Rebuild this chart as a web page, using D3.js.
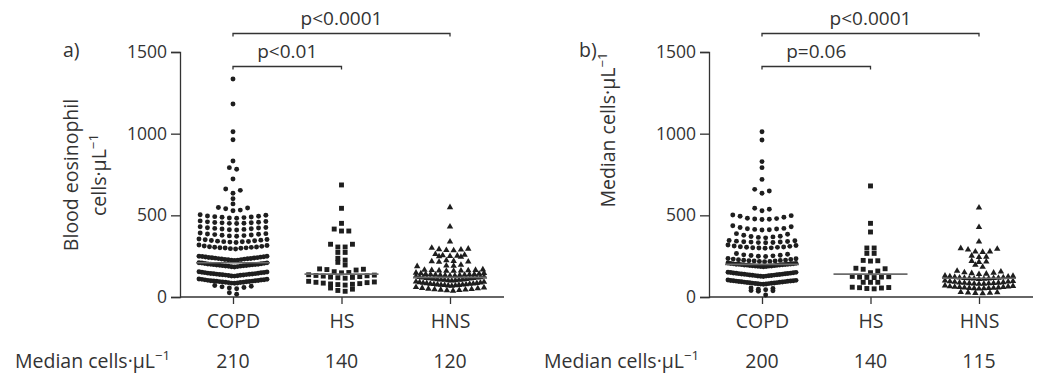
<!DOCTYPE html>
<html>
<head>
<meta charset="utf-8">
<script src="https://cdn.jsdelivr.net/npm/d3@7"></script>
<style>
  body { margin: 0; background: #fff; }
  text { font-family: "Open Sans", "Liberation Sans", Arial, sans-serif; fill: #333; }
</style>
</head>
<body>
<svg id="chart" width="1038" height="375"></svg>
<script>
// categories and tick labels
const categories = ['COPD', 'HS', 'HNS'];
const yTicks = [0, 500, 1000, 1500];

// panel a: blood eosinophil counts (cells/uL)
const copdA = [17, 26,
  50, 55, 58, 62, 66, 70,
  84, 85, 86, 88, 89, 90, 90, 92, 93, 94, 95, 96, 97, 98, 100, 100, 101, 102, 104, 105, 106, 108, 109, 110,
  128, 129, 130, 132, 133, 134, 135, 136, 137, 138, 139, 140, 141, 142, 143, 144, 145, 146, 148, 149, 150, 152, 153, 155,
  184, 185, 186, 188, 189, 190, 191, 192, 193, 194, 195, 196, 197, 198, 199, 200, 201, 202, 204, 205, 206, 208, 209, 210,
  224, 225, 226, 228, 229, 230, 232, 233, 234, 235, 236, 238, 239, 240, 241, 242, 244, 245, 246, 248, 249, 250,
  294, 296, 298, 300, 301, 302, 304, 305, 306, 308, 310, 312, 315, 318,
  334, 336, 338, 339, 340, 342, 344, 346, 348, 350, 352, 355,
  372, 374, 376, 378, 380, 382, 384, 386, 388, 392,
  410, 412, 414, 416, 418, 420, 422, 424, 426, 430,
  450, 451, 452, 454, 455, 456, 458, 460, 462, 466,
  482, 484, 486, 488, 490, 492, 494, 496, 500, 504,
  528, 532, 540, 545, 548,
  570, 602, 635, 653, 661, 722, 782, 792, 833, 963, 1012, 1182, 1335];
const hsA = [35, 40, 48, 55,
  73, 76, 78, 80, 82, 85, 88, 90, 92, 96,
  115, 118, 120, 122, 125, 128, 130, 132, 134, 136,
  148, 150, 155, 165, 168, 170, 172,
  196, 212, 226, 237, 273, 273,
  306, 306, 323, 323,
  404, 404, 416, 451, 543, 686];
const hnsA = [38, 40, 42, 44, 45, 46, 48, 50, 52, 55, 58, 60,
  68, 70, 71, 72, 73, 74, 75, 76, 77, 78, 80, 81, 82, 84, 85, 86, 88, 90, 92, 94,
  100, 101, 102, 104, 105, 106, 107, 108, 110, 111, 112, 114, 115, 116, 118, 119, 120, 122, 124, 126,
  130, 131, 132, 133, 134, 135, 136, 137, 138, 139, 140, 142, 144, 146, 148,
  160, 160, 161, 162, 163, 164, 165, 166, 168,
  188, 190, 192, 196,
  215, 216, 218, 220, 224,
  245, 248, 250, 252, 255, 258, 262,
  285, 287, 290, 292, 295, 300,
  339, 431, 549];

// panel b: median cells/uL per subject
const copdB = [12,
  35, 38, 40, 44, 48, 52, 55,
  78, 79, 80, 81, 82, 83, 84, 85, 86, 87, 88, 89, 90, 91, 92, 93, 94, 95, 96, 97, 98, 99, 100, 101, 102, 104,
  126, 127, 128, 129, 130, 131, 132, 133, 134, 135, 136, 137, 138, 139, 140, 141, 142, 143, 144, 145, 146, 147, 148, 150, 151, 152,
  185, 186, 187, 188, 189, 190, 190, 191, 192, 193, 194, 195, 196, 196, 197, 198, 199, 200, 200, 201, 202, 203, 204, 205, 206, 208,
  216, 217, 218, 220, 221, 222, 224, 225, 226, 228, 230, 232, 234, 236,
  248, 250, 252, 254, 256, 258, 262, 266,
  298, 300, 301, 302, 304, 305, 306, 308, 310, 312, 315, 318,
  332, 333, 334, 336, 337, 338, 340, 342, 344, 346,
  362, 365, 368, 370, 372, 378, 384, 388,
  410, 412, 414, 416, 418, 420, 425, 430, 436,
  474, 476, 478, 480, 482, 488, 494, 498, 502,
  528, 537, 543,
  635, 649, 659, 720, 792, 829, 961, 1012];
const hsB = [50, 52, 55, 57, 58, 60,
  90, 90, 90,
  119, 120, 122, 122, 124, 126,
  149, 159, 170, 173, 176,
  220, 222, 224,
  267, 267, 300, 300,
  398, 451, 680];
const hnsB = [22, 24, 25, 27, 28, 30,
  51, 52, 53, 54, 55, 56, 57, 58, 60, 61, 62, 64, 65, 67, 70,
  80, 81, 82, 83, 84, 85, 86, 87, 88, 90, 92, 94, 95, 97, 100,
  110, 111, 112, 113, 114, 115, 116, 117, 118, 120, 122, 124, 126, 128, 130,
  140, 142, 145, 148, 150, 155, 160,
  184, 196,
  214, 216, 220,
  244, 246, 252,
  275, 277, 278, 290, 294, 298,
  339, 427, 547];

const mediansA = [210, 140, 120];
const mediansB = [200, 140, 115];
const pLabelsA = ['p<0.01', 'p<0.0001'];
const pLabelsB = ['p=0.06', 'p<0.0001'];

const FONT = '"Open Sans", "Liberation Sans", Arial, sans-serif';
const svg = d3.select('#chart');
const y = d3.scaleLinear().domain([0, 1500]).range([297, 52]);
const x = d3.scalePoint().domain(categories).range([233, 450]);

const symbols = [d3.symbolCircle, d3.symbolSquare, d3.symbolTriangle];
const symbolSizes = [19, 24, 18];

// Prism-like column scatter: group close values into rows, spread each row centre-out
function layout(values, cx) {
  const sorted = values.slice().sort((a, b) => a - b);
  const rows = [];
  let cur = null;
  sorted.forEach(v => {
    if (!cur || v - cur.start > 28) {
      cur = { start: v, vals: [] };
      rows.push(cur);
    }
    cur.vals.push(v);
  });
  const pts = [];
  rows.forEach(r => {
    const n = r.vals.length;
    const s = n > 1 ? Math.min(7.3, 68 / (n - 1)) : 0;
    r.vals.forEach((v, i) => {
      let k;
      if (n % 2) k = i === 0 ? 0 : Math.ceil(i / 2) * (i % 2 ? 1 : -1);
      else k = (Math.floor(i / 2) + 0.5) * (i % 2 ? -1 : 1);
      pts.push({ v, x: cx + k * s, y: y(v) });
    });
  });
  return pts;
}

// text with a "-1" superscript after a trailing "µL"
function writeUnit(sel, line) {
  if (line.endsWith('\u00b5L')) {
    sel.append('tspan').text(line);
    sel.append('tspan').attr('font-size', '0.68em').attr('dy', '-0.6em').text('\u22121');
  } else {
    sel.text(line);
  }
}

function drawPanel(dx, groups, medians, pLabels, letter, letterX, titleLines, titleX, titleY) {
  const g = svg.append('g').attr('transform', `translate(${dx},0)`);

  // y axis
  const yAxis = g.append('g')
    .attr('transform', 'translate(180,0)')
    .call(d3.axisLeft(y).tickValues(yTicks).tickSize(9).tickPadding(4).tickFormat(d3.format('d')));
  yAxis.select('.domain').attr('stroke', '#333').attr('stroke-width', 1.3);
  yAxis.selectAll('.tick line').attr('stroke', '#333').attr('stroke-width', 1.3);
  yAxis.selectAll('.tick text').attr('font-size', 17.5).attr('font-family', FONT).attr('fill', '#333');

  // x axis
  const xAxis = g.append('g')
    .attr('transform', 'translate(0,297)')
    .call(d3.axisBottom(x).tickSize(7).tickPadding(10));
  xAxis.select('.domain').attr('d', 'M180,0H504').attr('stroke', '#333').attr('stroke-width', 1.3);
  xAxis.selectAll('.tick line').attr('stroke', '#333').attr('stroke-width', 1.3);
  xAxis.selectAll('.tick text').attr('font-size', 19.5).attr('font-family', FONT).attr('fill', '#333').attr('dy', '0.71em');

  // points
  groups.forEach((vals, gi) => {
    const pts = layout(vals, x(categories[gi]));
    g.append('g').selectAll('path')
      .data(pts)
      .join('path')
      .attr('transform', d => `translate(${d.x},${d.y})`)
      .attr('d', d3.symbol().type(symbols[gi]).size(symbolSizes[gi]))
      .attr('fill', '#1e1e1e');
  });

  // median lines
  g.append('g').selectAll('line')
    .data(medians)
    .join('line')
    .attr('x1', (d, i) => x(categories[i]) - 37)
    .attr('x2', (d, i) => x(categories[i]) + 37)
    .attr('y1', d => y(d))
    .attr('y2', d => y(d))
    .attr('stroke', '#6b6b6b')
    .attr('stroke-width', 1.6);

  // significance brackets
  const brackets = [
    { from: 0, to: 1, yy: 66.5, label: pLabels[0] },
    { from: 0, to: 2, yy: 33.5, label: pLabels[1] }
  ];
  brackets.forEach(b => {
    const x1 = x(categories[b.from]), x2 = x(categories[b.to]);
    g.append('path')
      .attr('d', `M${x1},${b.yy + 3}V${b.yy}H${x2}V${b.yy + 3}`)
      .attr('fill', 'none').attr('stroke', '#333').attr('stroke-width', 1.3);
    g.append('text')
      .attr('x', (x1 + x2) / 2).attr('y', b.yy - 9)
      .attr('text-anchor', 'middle').attr('font-size', 19)
      .text(b.label);
  });

  // panel letter
  g.append('text').attr('x', letterX).attr('y', 57).attr('font-size', 19.5).text(letter);

  // y title
  const tt = g.append('text')
    .attr('transform', `translate(${titleX},${titleY}) rotate(-90)`)
    .attr('text-anchor', 'middle').attr('font-size', 19.5);
  titleLines.forEach((line, i) => {
    const t = tt.append('tspan').attr('x', 0).attr('y', i * 28);
    writeUnit(t, line);
  });

  // median row
  const mr = g.append('text').attr('x', 15).attr('y', 368).attr('font-size', 19.5);
  writeUnit(mr, 'Median cells\u00b7\u00b5L');
  g.append('g').selectAll('text')
    .data(medians)
    .join('text')
    .attr('x', (d, i) => x(categories[i]))
    .attr('y', 368)
    .attr('text-anchor', 'middle')
    .attr('font-size', 19.5)
    .text(d => d);
}

drawPanel(0, [copdA, hsA, hnsA], mediansA, pLabelsA, 'a)', 63, ['Blood eosinophil', 'cells\u00b7\u00b5L'], 78, 175);
drawPanel(529, [copdB, hsB, hnsB], mediansB, pLabelsB, 'b)', 50, ['Median cells\u00b7\u00b5L'], 86, 130);
</script>
</body>
</html>
